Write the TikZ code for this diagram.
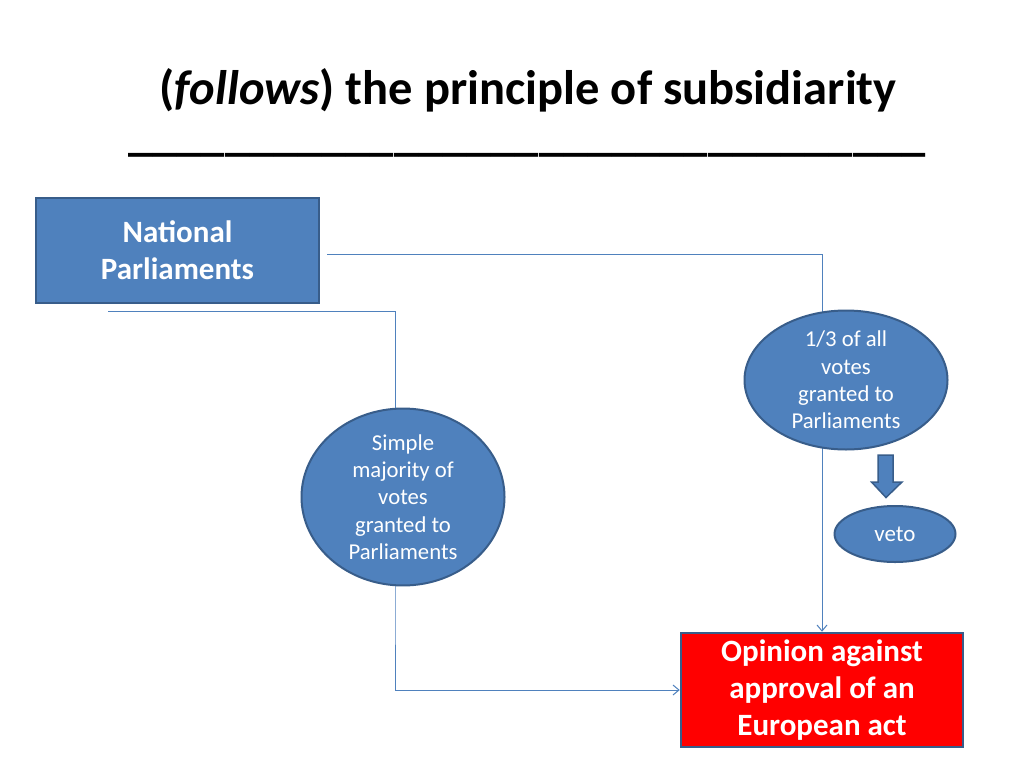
\documentclass[tikz,border=0pt]{standalone}
\usepackage{fontspec}
\setmainfont{Carlito}
\usetikzlibrary{shapes.geometric,arrows.meta}
\definecolor{nodeblue}{HTML}{4F81BD}
\definecolor{edgeblue}{HTML}{385D8A}
\definecolor{redfill}{HTML}{FF0000}
\tikzset{
  titletext/.style={font=\fontsize{48.5}{56}\selectfont\bfseries,anchor=base,inner sep=0pt},
  bluebox/.style={draw=edgeblue,fill=nodeblue,line width=2.5pt,text=white,font=\fontsize{31}{37}\selectfont\bfseries,align=center,inner sep=0pt},
  redbox/.style={draw=edgeblue,fill=redfill,line width=2.5pt,text=white,font=\fontsize{31}{37}\selectfont\bfseries,align=center,inner sep=0pt},
  blueell/.style={ellipse,draw=edgeblue,fill=nodeblue,line width=2pt,text=white,font=\fontsize{22.7}{27.3}\selectfont,align=center,inner sep=0pt},
  blockarrow/.style={draw=edgeblue,fill=nodeblue,line width=1.5pt,line join=miter},
  conn/.style={draw=nodeblue,line width=1pt},
  connarrow/.style={conn,-{Straight Barb[length=6pt,width=10pt,line width=1pt]}},
}
\begin{document}
\begin{tikzpicture}[x=1pt,y=-1pt]
\useasboundingbox (0,0) rectangle (1024,768);
\fill[white] (0,0) rectangle (1024,768);
% title
\node[titletext] (title) at (528,104) {(\textit{follows}) the principle of subsidiarity};
\node[titletext] (rule) at (527,150) {\_\_\_\_\_\_\_\_\_\_\_\_\_\_\_\_\_\_\_\_\_\_\_\_\_\_\_\_\_\_\_\_\_};
% nodes
\node[bluebox,minimum width=283pt,minimum height=105pt] (np) at (177.5,250.5) {National\\Parliaments};
\node[redbox,minimum width=282pt,minimum height=114pt] (op) at (822,690) {Opinion against\\approval of an\\European act};
% connectors (drawn under ellipses)
\coordinate (a1) at (327,254);
\coordinate (b1) at (108,311);
\draw[connarrow] (a1) -| (op.north);
\draw[connarrow] (b1) -| (395,600) |- (op.west);
% ellipses
\node[blueell,minimum width=203pt,minimum height=139pt] (third) at (846,380) {1/3 of all\\votes\\granted to\\Parliaments};
\node[blueell,minimum width=203pt,minimum height=162pt] (simple) at (403,497) {Simple\\majority of\\votes\\granted to\\Parliaments};
\node[blueell,minimum width=121pt,minimum height=56pt,font=\fontsize{23}{27}\selectfont] (veto) at (895,534) {veto};
% block arrow
\draw[blockarrow] (878,455) -- (893,455) -- (893,482) -- (902,482) -- (886,497.5) -- (871.5,482) -- (878,482) -- cycle;
\end{tikzpicture}
\end{document}
